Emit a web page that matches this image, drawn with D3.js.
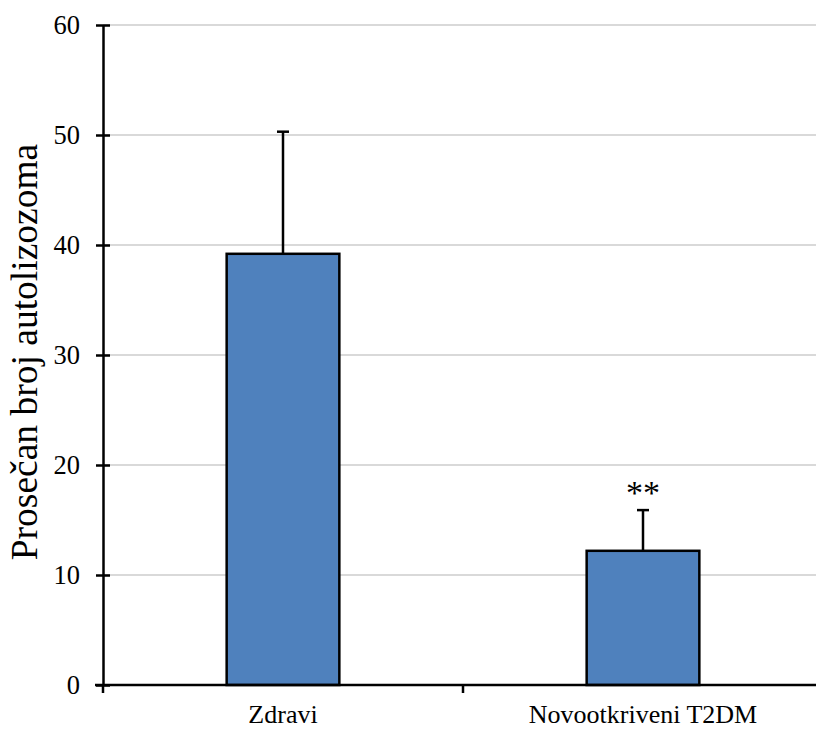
<!DOCTYPE html>
<html>
<head>
<meta charset="utf-8">
<script src="https://cdn.jsdelivr.net/npm/d3@7"></script>
<style>
  html, body { margin: 0; padding: 0; background: #fff; }
  svg { display: block; }
  svg text { font-family: 'Liberation Serif', 'Times New Roman', serif; fill: #000; }
</style>
</head>
<body>
<svg id="chart" width="816" height="729"></svg>
<script>
// Group labels, mean values and upper error (SD) for each group
const categories = ["Zdravi", "Novootkriveni T2DM"];
const means = [39.2, 12.2];
const errors = [11.1, 3.7];
const significance = ["", "**"];
const yTicks = [0, 10, 20, 30, 40, 50, 60];
const yTitle = "Prosečan broj autolizozoma";

const serif = "'Liberation Serif', 'Times New Roman', serif";
const svg = d3.select("#chart");
const plotLeft = 103, plotRight = 823, plotTop = 25, plotBottom = 685;

const x = d3.scaleBand().domain(categories).range([plotLeft, plotRight]).padding(0);
const y = d3.scaleLinear().domain([0, 60]).range([plotBottom, plotTop]);
const barW = x.bandwidth() * 0.313;

// horizontal gridlines
svg.append("g")
  .selectAll("line")
  .data(yTicks.filter(d => d > 0))
  .join("line")
  .attr("x1", plotLeft).attr("x2", 816)
  .attr("y1", d => y(d)).attr("y2", d => y(d))
  .attr("stroke", "#d9d9d9").attr("stroke-width", 2);

// bars
svg.append("g")
  .selectAll("rect")
  .data(categories)
  .join("rect")
  .attr("x", d => x(d) + x.bandwidth() / 2 - barW / 2)
  .attr("width", barW)
  .attr("y", (d, i) => y(means[i]))
  .attr("height", (d, i) => y(0) - y(means[i]))
  .attr("fill", "#4f81bd")
  .attr("stroke", "#000")
  .attr("stroke-width", 2.5);

// error bars (upper only) with caps
const eb = svg.append("g").attr("stroke", "#000").attr("stroke-width", 2.5);
categories.forEach((c, i) => {
  const cx = x(c) + x.bandwidth() / 2;
  eb.append("line")
    .attr("x1", cx).attr("x2", cx)
    .attr("y1", y(means[i])).attr("y2", y(means[i] + errors[i]));
  eb.append("line")
    .attr("x1", cx - 6).attr("x2", cx + 6)
    .attr("y1", y(means[i] + errors[i])).attr("y2", y(means[i] + errors[i]));
});

// significance markers
svg.append("g")
  .selectAll("text")
  .data(categories)
  .join("text")
  .attr("x", d => x(d) + x.bandwidth() / 2)
  .attr("y", (d, i) => y(means[i] + errors[i]) - 6)
  .attr("text-anchor", "middle")
  .style("font-family", serif)
  .style("font-size", "34px")
  .text((d, i) => significance[i]);

// y axis
const yAxis = svg.append("g")
  .attr("transform", `translate(${plotLeft},0)`)
  .call(d3.axisLeft(y).tickValues(yTicks).tickSize(7).tickSizeOuter(0).tickPadding(16));
yAxis.attr("font-family", null).attr("font-size", null);
yAxis.select(".domain").attr("stroke", "#000").attr("stroke-width", 2.5);
yAxis.selectAll(".tick line")
  .attr("x1", -7).attr("x2", 7)
  .attr("stroke", "#000").attr("stroke-width", 2.5);
yAxis.selectAll(".tick text")
  .style("font-family", serif)
  .style("font-size", "26.5px")
  .attr("fill", "#000");

// x axis
const xAxis = svg.append("g")
  .attr("transform", `translate(0,${plotBottom})`);
xAxis.append("line")
  .attr("x1", plotLeft - 8).attr("x2", 816)
  .attr("y1", 0).attr("y2", 0)
  .attr("stroke", "#000").attr("stroke-width", 2.5);
// category boundary ticks
const boundaries = [plotLeft, x(categories[1])];
xAxis.selectAll(".bt")
  .data(boundaries)
  .join("line")
  .attr("x1", d => d).attr("x2", d => d)
  .attr("y1", 0).attr("y2", 8)
  .attr("stroke", "#000").attr("stroke-width", 2.5);
xAxis.selectAll(".cl")
  .data(categories)
  .join("text")
  .attr("x", d => x(d) + x.bandwidth() / 2)
  .attr("y", 38)
  .attr("text-anchor", "middle")
  .style("font-family", serif)
  .style("font-size", "26px")
  .text(d => d);

// y axis title
svg.append("text")
  .attr("transform", `translate(37,352) rotate(-90)`)
  .attr("text-anchor", "middle")
  .style("font-family", serif)
  .style("font-size", "37.5px")
  .text(yTitle);
</script>
</body>
</html>
